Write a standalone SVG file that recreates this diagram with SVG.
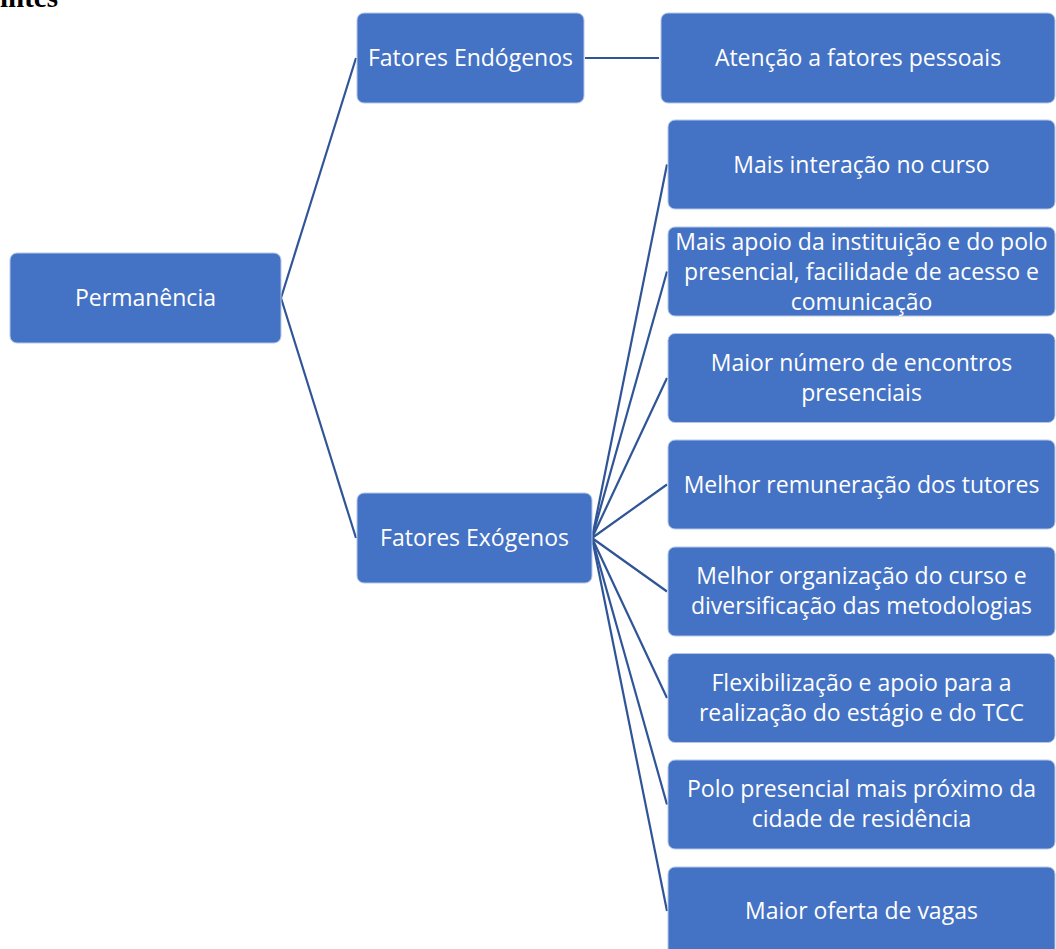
<svg xmlns="http://www.w3.org/2000/svg" width="1056" height="949" viewBox="0 0 1056 949">
<style>
.box{fill:#4472C4;stroke:#B4C7E7;stroke-width:1}
.t{font-family:"Open Sans","Noto Sans",sans-serif;font-size:23px;fill:#FFFFFF;text-anchor:middle}
.c{stroke:#2F5597;stroke-width:2.2;fill:none}
.title{font-family:"Liberation Serif",serif;font-weight:bold;font-size:29px;fill:#000}
</style>
<rect width="1056" height="949" fill="#FFFFFF"/>
<text class="title" x="0" y="7">intes</text>
<g id="connectors">
<line class="c" x1="281" y1="298" x2="356" y2="58"/>
<line class="c" x1="281" y1="298" x2="356" y2="538"/>
<line class="c" x1="585" y1="58" x2="659" y2="58"/>
<line class="c" x1="592" y1="538" x2="667" y2="164.5"/>
<line class="c" x1="592" y1="538" x2="667" y2="271.5"/>
<line class="c" x1="592" y1="538" x2="667" y2="378"/>
<line class="c" x1="592" y1="538" x2="667" y2="484.5"/>
<line class="c" x1="592" y1="538" x2="667" y2="591.5"/>
<line class="c" x1="592" y1="538" x2="667" y2="698"/>
<line class="c" x1="592" y1="538" x2="667" y2="804.5"/>
<line class="c" x1="592" y1="538" x2="667" y2="911"/>
</g>
<g id="n-permanencia"><rect class="box" x="10" y="253" width="271" height="90" rx="7"/><text class="t" x="145.5" y="306">Permanência</text></g>
<g id="n-endogenos"><rect class="box" x="357" y="13" width="227" height="90" rx="7"/><text class="t" x="470.5" y="66">Fatores Endógenos</text></g>
<g id="n-exogenos"><rect class="box" x="357" y="493" width="235" height="90" rx="7"/><text class="t" x="474.5" y="546">Fatores Exógenos</text></g>
<g id="n-atencao"><rect class="box" x="661" y="13" width="394" height="90" rx="7"/><text class="t" x="858" y="66">Atenção a fatores pessoais</text></g>
<g id="n-interacao"><rect class="box" x="668" y="120" width="387" height="89" rx="7"/><text class="t" x="861.5" y="172.5">Mais interação no curso</text></g>
<g id="n-apoio"><rect class="box" x="668" y="227" width="387" height="89" rx="7"/><text class="t" x="861.5" y="250">Mais apoio da instituição e do polo</text><text class="t" x="861.5" y="280">presencial, facilidade de acesso e</text><text class="t" x="861.5" y="310">comunicação</text></g>
<g id="n-encontros"><rect class="box" x="668" y="333.5" width="387" height="89" rx="7"/><text class="t" x="861.5" y="370.5">Maior número de encontros</text><text class="t" x="861.5" y="400.5">presenciais</text></g>
<g id="n-organizacao"><rect class="box" x="668" y="547" width="387" height="89" rx="7"/><text class="t" x="861.5" y="584">Melhor organização do curso e</text><text class="t" x="861.5" y="614">diversificação das metodologias</text></g>
<g id="n-remuneracao"><rect class="box" x="668" y="440" width="387" height="89" rx="7"/><text class="t" x="861.5" y="492.5">Melhor remuneração dos tutores</text></g>
<g id="n-estagio"><rect class="box" x="668" y="653.5" width="387" height="89" rx="7"/><text class="t" x="861.5" y="690.5">Flexibilização e apoio para a</text><text class="t" x="861.5" y="720.5">realização do estágio e do TCC</text></g>
<g id="n-polo"><rect class="box" x="668" y="760" width="387" height="89" rx="7"/><text class="t" x="861.5" y="797">Polo presencial mais próximo da</text><text class="t" x="861.5" y="827">cidade de residência</text></g>
<g id="n-vagas"><rect class="box" x="668" y="867" width="387" height="89" rx="7"/><text class="t" x="861.5" y="919">Maior oferta de vagas</text></g>
</svg>
